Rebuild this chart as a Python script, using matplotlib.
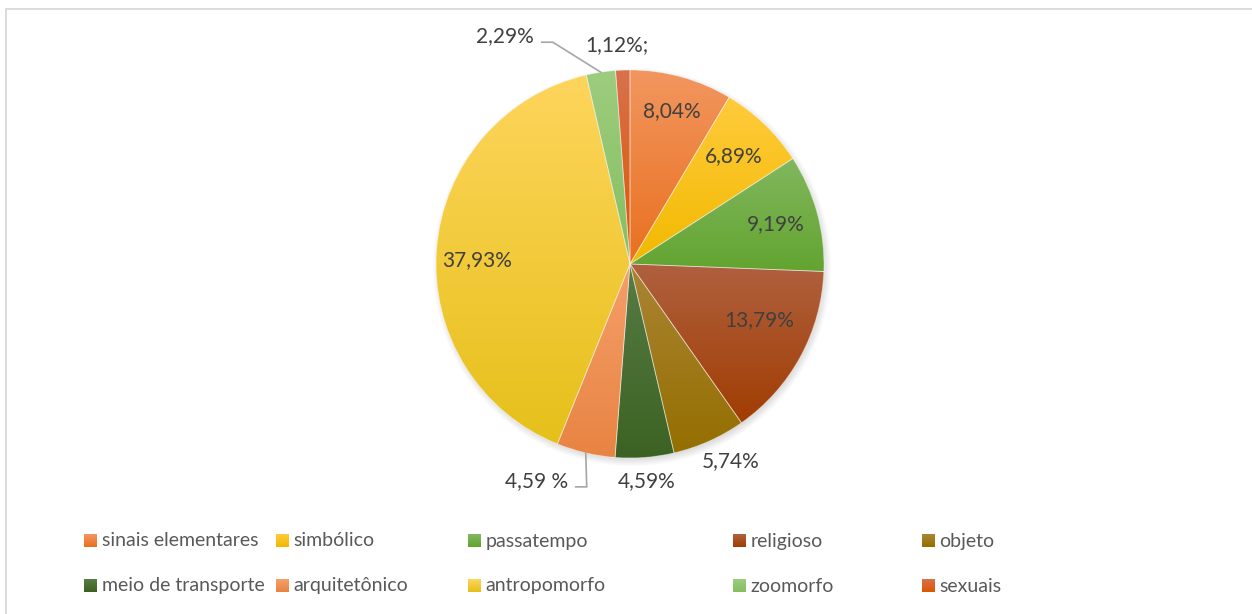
import numpy as np
import matplotlib
matplotlib.use("Agg")
import matplotlib.pyplot as plt
from matplotlib.colors import to_rgb
from matplotlib.lines import Line2D

# ---- data -------------------------------------------------------------
categories = ['sinais elementares', 'simbólico', 'passatempo', 'religioso', 'objeto',
              'meio de transporte', 'arquitetônico', 'antropomorfo', 'zoomorfo', 'sexuais']
values = [8.04, 6.89, 9.19, 13.79, 5.74, 4.59, 4.59, 37.93, 2.29, 1.12]
value_labels = ['8,04%', '6,89%', '9,19%', '13,79%', '5,74%',
                '4,59%', '4,59 %', '37,93%', '2,29%', '1,12%;']

# gradient colours (top, bottom) for each slice
grad_colors = [
    ('#F2965F', '#E9701F'),
    ('#FFCB3C', '#F2B900'),
    ('#82B75E', '#62A430'),
    ('#B0603F', '#A03D02'),
    ('#AB8434', '#946F00'),
    ('#577C45', '#3C6223'),
    ('#F59F69', '#E88443'),
    ('#FED55C', '#E6C01A'),
    ('#9DCC7E', '#85BF61'),
    ('#D8714B', '#DA5900'),
]

# label placement: (radial factor, dx px, dy px)  -- pixel offsets, y downwards
label_place = [
    (0.82, 0, 0),
    (0.77, 0, 0),
    (0.78, 0, 0),
    (0.76, 0, -14),
    (1.14, 10, -5),
    (1.12, 0, 0),
    None,
    (0.79, 0, 8),
    None,
    (1.13, -5, 0),
]
# labels with leader lines: offset of text from the slice edge point
leader_offsets = {6: (-49, 28), 8: (-96, -36)}

W, H = 1252, 614
CX, CY, R = 630, 264, 194          # pie centre / radius in pixels (y downwards)

fig = plt.figure(figsize=(W / 100, H / 100), dpi=100)
ax = fig.add_axes([0, 0, 1, 1])
ax.set_xlim(0, W)
ax.set_ylim(0, H)
ax.axis('off')

def Y(y):
    return H - y

FONT = 'Lato'
TXT = '#404040'
LEG_TXT = '#595959'

# soft shadow under the pie
xs = np.arange(CX - R - 20, CX + R + 20)
ys = np.arange(CY - R - 20, CY + R + 20)
gx, gy = np.meshgrid(xs, ys)
d = np.hypot(gx - (CX + 2), gy - (CY + 3))
blur = 6.0
a = np.clip((R + blur - d) / (2 * blur), 0, 1) * 0.28
shadow = np.zeros(gx.shape + (4,))
shadow[..., :3] = 0.3
shadow[..., 3] = a
ax.imshow(shadow, extent=[xs[0], xs[-1], Y(ys[-1]), Y(ys[0])], origin='upper',
          aspect='auto', zorder=1, interpolation='bilinear')

wedges, _ = ax.pie(values, startangle=90, counterclock=False, center=(CX, Y(CY)),
                   radius=R, frame=True,
                   wedgeprops=dict(linewidth=0.6, edgecolor=(1, 1, 1, 0.45), zorder=3))

def gradient_img(top, bottom, n=128):
    t = np.linspace(0, 1, n)[:, None, None]
    c0 = np.array(to_rgb(top))[None, None, :]
    c1 = np.array(to_rgb(bottom))[None, None, :]
    return c0 * (1 - t) + c1 * t

for w, (top, bot) in zip(wedges, grad_colors):
    ext = w.get_path().get_extents()
    im = ax.imshow(gradient_img(top, bot), extent=[ext.x0, ext.x1, ext.y0, ext.y1],
                   origin='upper', aspect='auto', zorder=2, interpolation='bilinear')
    im.set_clip_path(w)
    w.set_facecolor('none')

ax.set_xlim(0, W)
ax.set_ylim(0, H)
ax.set_aspect('auto')

# value labels
for i, w in enumerate(wedges):
    mid = np.deg2rad((w.theta1 + w.theta2) / 2)
    if label_place[i] is not None:
        f, dx, dy = label_place[i]
        x = CX + f * R * np.cos(mid) + dx
        y = CY - f * R * np.sin(mid) + dy
        ax.text(x, Y(y), value_labels[i], ha='center', va='center',
                fontsize=15, color=TXT, family=FONT, zorder=5)
    else:
        ax_x = CX + R * np.cos(mid)
        ax_y = CY - R * np.sin(mid)
        ox, oy = leader_offsets[i]
        lx, ly = ax_x + ox, ax_y + oy
        ax.text(lx, Y(ly), value_labels[i], ha='center', va='center',
                fontsize=15, color=TXT, family=FONT, zorder=5)
        if i == 8:
            ex, ey = lx + 37, ly + 6
            kx, ky = lx + 48, ly + 6
        else:
            ex, ey = lx + 39, ly + 6
            kx, ky = lx + 50, ly + 6
        ax.plot([ax_x, kx, ex], [Y(ax_y), Y(ky), Y(ey)], color='#A6A6A6', lw=1.2, zorder=4)

# legend (two rows of five)
col_x = [84, 276, 468, 733, 922]
row_y = [541, 586]
sq = 12.5
for i, (name, (top, bot)) in enumerate(zip(categories, grad_colors)):
    r, c = divmod(i, 5)
    x0, yc = col_x[c], row_y[r]
    ax.imshow(gradient_img(top, bot, 16), extent=[x0, x0 + sq, Y(yc + sq / 2), Y(yc - sq / 2)],
              origin='upper', aspect='auto', zorder=5, interpolation='bilinear')
    ax.text(x0 + sq + 5, Y(yc), name, ha='left', va='center', fontsize=14,
            color=LEG_TXT, family=FONT, zorder=5)

ax.set_xlim(0, W)
ax.set_ylim(0, H)

# chart area border (left and top edges)
ax.add_line(Line2D([6, 6, W + 5], [-5, Y(9), Y(9)], color='#D9D9D9', lw=1.3, zorder=6))

fig.savefig('out.png', dpi=100)
